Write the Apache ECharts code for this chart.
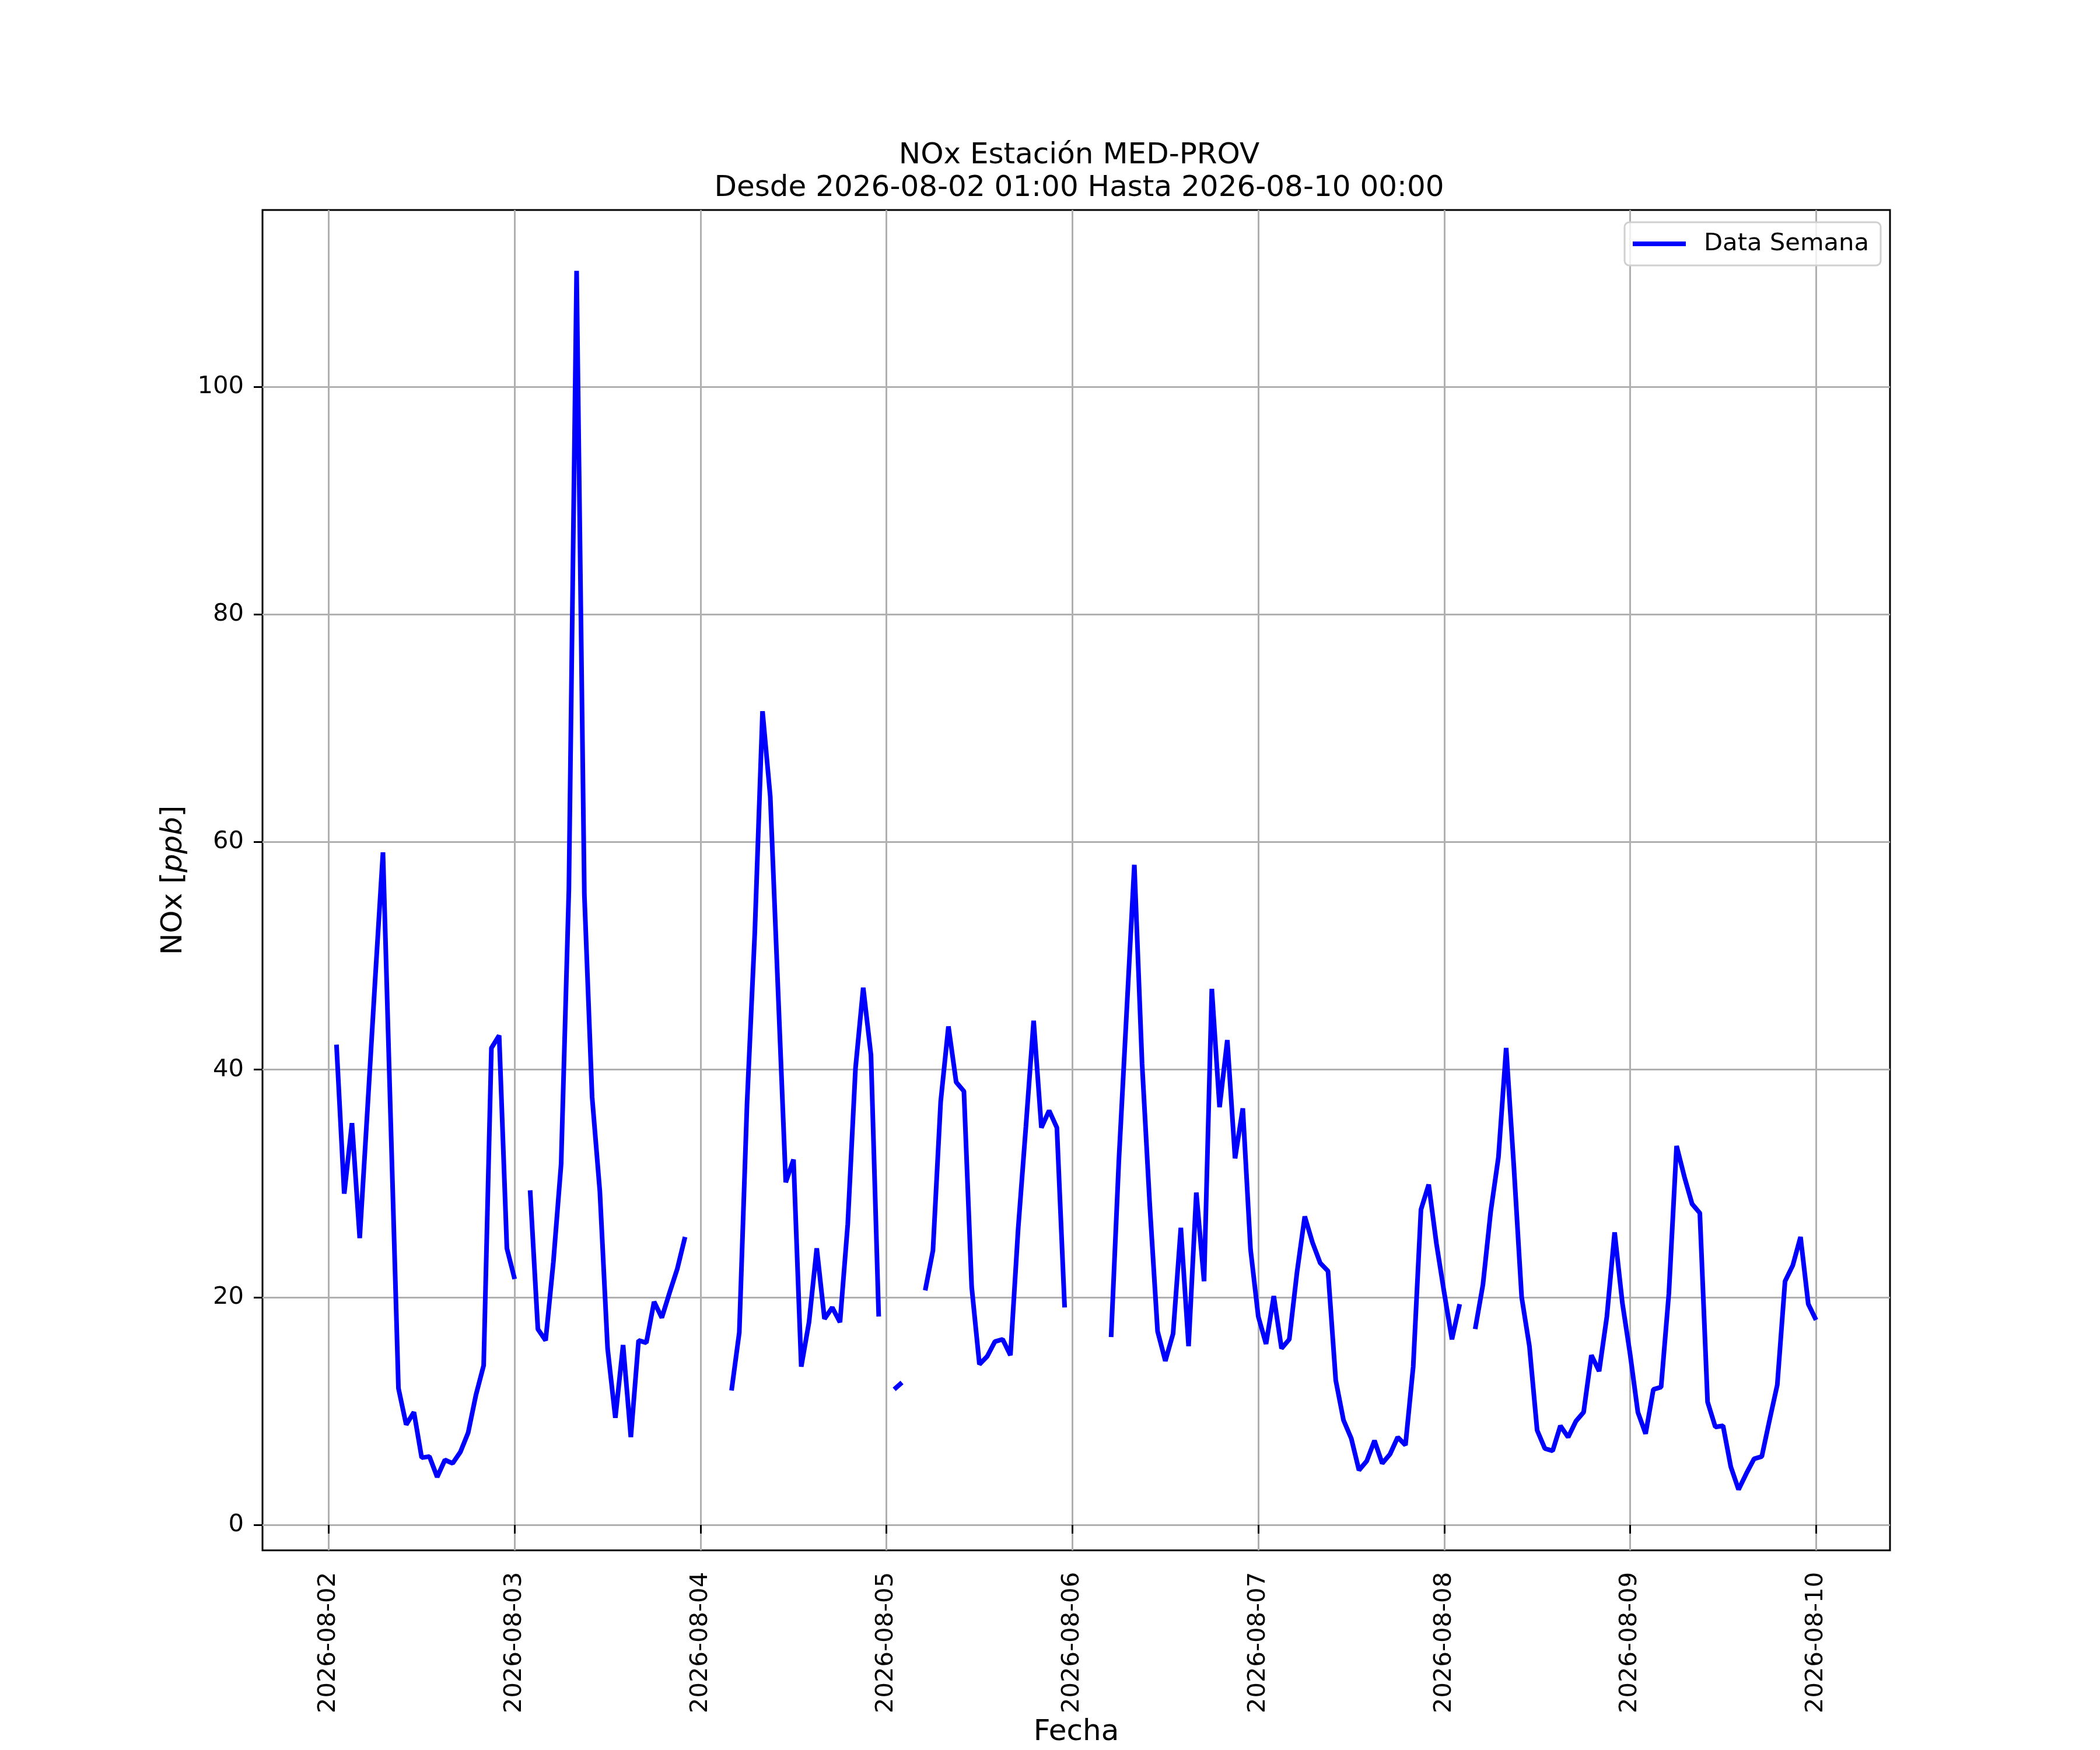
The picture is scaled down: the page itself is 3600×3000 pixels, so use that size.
<!DOCTYPE html>
<html lang="es">
<head>
    <meta charset="UTF-8">
    <title>NOx Estación MED-PROV</title>
    <script src="https://cdn.jsdelivr.net/npm/echarts@6/dist/echarts.min.js"></script>
    <style>
        body { margin: 0; background: #fff; }
    </style>
</head>
<body>
<div id="main" style="width: 3600px; height: 3000px"></div>
<script>
    // NOx [ppb] por hora, cada fila va de 01:00 hasta 00:00 del dia siguiente (null = sin dato)
    let nox_0802 = [42.2, 29.1, 35.3, 25.2, 36.5, 48, 59.1, 35.5, 12.0, 8.8, 9.9, 5.9, 6.0, 4.2, 5.7, 5.4, 6.4, 8.1, 11.4, 14.0, 41.9, 43.0, 24.3, 21.6];
    let nox_0803 = [null, 29.4, 17.2, 16.2, 23.1, 31.7, 55.8, 110.2, 55.4, 37.6, 29.3, 15.5, 9.4, 15.8, 7.7, 16.2, 16.0, 19.6, 18.2, 20.4, 22.5, 25.3, null, null];
    let nox_0804 = [null, null, null, 11.8, 16.9, 37, 52, 71.5, 64.0, 47, 30.1, 32.1, 13.9, 17.8, 24.3, 18.1, 19.1, 17.8, 26.4, 40.1, 47.2, 41.3, 18.3, null];
    let nox_0805 = [11.9, 12.5, null, null, 20.6, 24.1, 37.2, 43.8, 38.9, 38.1, 20.9, 14.1, 14.8, 16.1, 16.3, 14.9, 26, 35, 44.3, 34.9, 36.4, 34.9, 19.1, null];
    let nox_0806 = [null, null, null, null, 16.5, 32, 45, 58.0, 40.5, 28, 17.0, 14.4, 16.8, 26.1, 15.7, 29.2, 21.4, 47.1, 36.7, 42.6, 32.2, 36.6, 24.2, 18.3];
    let nox_0807 = [15.9, 20.1, 15.5, 16.3, 22.2, 27.1, 24.8, 23.0, 22.3, 12.7, 9.2, 7.6, 4.8, 5.6, 7.4, 5.4, 6.2, 7.7, 7.0, 13.9, 27.7, 29.9, 24.7, 20.4];
    let nox_0808 = [16.3, 19.4, null, 17.2, 21.1, 27.5, 32.3, 41.9, 31.4, 20.0, 15.7, 8.3, 6.7, 6.5, 8.7, 7.7, 9.1, 9.9, 14.9, 13.5, 18.3, 25.7, 19.5, 15.0];
    let nox_0809 = [9.9, 8.0, 11.9, 12.1, 20.3, 33.3, 30.6, 28.2, 27.4, 10.8, 8.6, 8.7, 5.1, 3.1, 4.5, 5.8, 6.0, 9.2, 12.3, 21.4, 22.8, 25.3, 19.4, 18.0];

    // etiquetas del eje x (un tick por dia) y del eje y
    let dayTicks = ['2026-08-02', '2026-08-03', '2026-08-04', '2026-08-05', '2026-08-06', '2026-08-07', '2026-08-08', '2026-08-09', '2026-08-10'];
    let yTicks = [0, 20, 40, 60, 80, 100];

    let HOUR = 3600 * 1000;
    let start = Date.UTC(2026, 7, 2, 1);   // 2026-08-02 01:00
    let values = [].concat(nox_0802, nox_0803, nox_0804, nox_0805, nox_0806, nox_0807, nox_0808, nox_0809);
    let data = [];
    for (let i = 0; i < values.length; i++) {
        data.push([start + i * HOUR, values[i]]);
    }
    let end = start + (values.length - 1) * HOUR;
    let pad = (end - start) * 0.05;  // margen como matplotlib

    let tickTimes = dayTicks.map(function (d) {
        let p = d.split('-');
        return Date.UTC(+p[0], +p[1] - 1, +p[2]);
    });
    function fmtDay(v) {
        let d = new Date(v);
        let m = String(d.getUTCMonth() + 1).padStart(2, '0');
        let dd = String(d.getUTCDate()).padStart(2, '0');
        return d.getUTCFullYear() + '-' + m + '-' + dd;
    }

    let fs = 41.7;   // 10pt a 300 dpi
    let myChart = echarts.init(document.getElementById('main'));
    let option = {
        animation: false,
        color: ['#0000ff'],
        textStyle: { fontFamily: 'DejaVu Sans', color: '#000' },
        title: {
            text: 'NOx Estación MED-PROV\nDesde 2026-08-02 01:00 Hasta 2026-08-10 00:00',
            left: 1845,
            top: 234,
            textAlign: 'center',
            textStyle: { fontSize: 50, fontWeight: 'normal', lineHeight: 56, fontFamily: 'DejaVu Sans', color: '#000' }
        },
        legend: {
            left: 2785,
            top: 381,
            icon: 'rect',
            itemWidth: 91,
            itemHeight: 8,
            padding: [16, 20, 16, 14],
            backgroundColor: 'rgba(255,255,255,0.8)',
            borderColor: '#d0d0d0',
            borderWidth: 3,
            borderRadius: 8,
            textStyle: { fontSize: fs, padding: [0, 0, 0, 26], fontFamily: 'DejaVu Sans', color: '#000' },
            data: ['Data Semana']
        },
        grid: {
            left: 450,
            right: 360,
            top: 360,
            bottom: 330,
            show: true,
            borderColor: '#000',
            borderWidth: 3,
            backgroundColor: '#fff'
        },
        xAxis: {
            type: 'value',
            min: start - pad,
            max: end + pad,
            name: 'Fecha',
            nameLocation: 'middle',
            nameGap: 285,
            nameTextStyle: { fontSize: 50, color: '#000' },
            axisLine: { show: false },
            axisTick: {
                show: true,
                length: 15,
                customValues: tickTimes,
                lineStyle: { color: '#000', width: 3 }
            },
            axisLabel: {
                rotate: 90,
                margin: 37,
                fontSize: fs,
                color: '#000',
                customValues: tickTimes,
                formatter: function (v) { return fmtDay(v); }
            },
            splitLine: { show: true, lineStyle: { color: '#b0b0b0', width: 3 } }
        },
        yAxis: {
            type: 'value',
            min: -2.25,
            max: 115.55,
            name: 'NOx [{i|ppb}]',
            nameLocation: 'middle',
            nameGap: 127,
            nameRotate: 90,
            nameTextStyle: {
                fontSize: 50,
                color: '#000',
                rich: { i: { fontSize: 50, fontStyle: 'italic', fontFamily: 'DejaVu Sans', color: '#000' } }
            },
            axisLine: { show: false },
            axisTick: {
                show: true,
                length: 15,
                customValues: yTicks,
                lineStyle: { color: '#000', width: 3 }
            },
            axisLabel: {
                margin: 32,
                fontSize: fs,
                color: '#000',
                customValues: yTicks
            },
            splitLine: { show: true, lineStyle: { color: '#b0b0b0', width: 3 } }
        },
        series: [
            {
                name: 'Data Semana',
                type: 'line',
                data: data,
                showSymbol: false,
                connectNulls: false,
                lineStyle: { color: '#0000ff', width: 8 },
                itemStyle: { color: '#0000ff' }
            }
        ]
    };
    myChart.setOption(option);
</script>
</body>
</html>
